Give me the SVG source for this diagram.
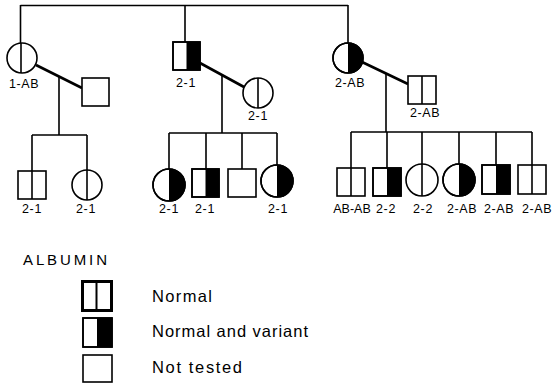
<svg xmlns="http://www.w3.org/2000/svg" width="552" height="386" viewBox="0 0 552 386">
<style>
.s{fill:#fff;stroke:#000;stroke-width:1.6}
.b{fill:#000;stroke:none}
.l{stroke:#000;stroke-width:1.6;fill:none}
.m{stroke:#000;stroke-width:2.6;fill:none}
.t{font-family:"Liberation Sans",Arial,sans-serif;font-size:12.5px;fill:#000;text-anchor:middle;letter-spacing:0.6px}
.g{font-family:"Liberation Sans",Arial,sans-serif;font-size:16.5px;fill:#000}
</style>
<rect width="552" height="386" fill="#fff"/>
<g id="connectors">
<path class="l" d="M20.5 5.5 H348 M20.5 5 V43 M185 5 V42 M348 5 V43"/>
<path class="m" d="M36 65 L82 88 M200 63 L244 87 M362 62 L408 84"/>
<path class="l" d="M59 76 V135 M32 135 H87 M32 135 V171 M87 135 V170"/>
<path class="l" d="M222 75 V133 M169 133 H277 M169 133 V169 M206 133 V169 M242 133 V169 M277 133 V165"/>
<path class="l" d="M386 73 V132 M351 132 H532 M351 132 V168 M387 132 V168 M422 132 V164 M459 132 V164 M496 132 V165 M532 132 V165"/>
</g>
<g id="g1-f">
<circle class="s" cx="22" cy="58" r="15"/><path class="l" d="M21 43 V73"/>
<text class="t" x="24" y="88">1-AB</text>
</g>
<g id="g1-m">
<rect class="s" x="173" y="42" width="27" height="28"/><rect class="b" x="186.5" y="42" width="13.5" height="28"/><rect class="s" x="173" y="42" width="27" height="28" style="fill:none"/>
<text class="t" x="186" y="87">2-1</text>
</g>
<g id="g1-f2">
<circle class="s" cx="348" cy="58" r="15"/><path class="b" d="M348 43 A15 15 0 0 1 348 73 Z"/><circle class="s" cx="348" cy="58" r="15" style="fill:none"/>
<text class="t" x="350" y="87">2-AB</text>
</g>
<g id="sp1">
<rect class="s" x="82" y="78" width="27" height="28"/>
</g>
<g id="sp2">
<circle class="s" cx="258" cy="93" r="15"/><path class="l" d="M258 78 V108"/>
<text class="t" x="258" y="120">2-1</text>
</g>
<g id="sp3">
<rect class="s" x="408" y="76" width="28" height="28"/><path class="l" d="M422 76 V104"/>
<text class="t" x="425" y="117">2-AB</text>
</g>
<g id="c1a">
<rect class="s" x="18" y="171" width="28" height="28"/><path class="l" d="M32 171 V199"/>
<text class="t" x="32" y="213">2-1</text>
</g>
<g id="c1b">
<circle class="s" cx="87" cy="185" r="15"/><path class="l" d="M87 170 V200"/>
<text class="t" x="86" y="213">2-1</text>
</g>
<g id="c2a">
<circle class="s" cx="169" cy="185" r="16"/><path class="b" d="M169 169 A16 16 0 0 1 169 201 Z"/><circle class="s" cx="169" cy="185" r="16" style="fill:none"/>
<text class="t" x="169" y="213">2-1</text>
</g>
<g id="c2b">
<rect class="s" x="192" y="169" width="27" height="28"/><rect class="b" x="205.5" y="169" width="13.5" height="28"/><rect class="s" x="192" y="169" width="27" height="28" style="fill:none"/>
<text class="t" x="205" y="213">2-1</text>
</g>
<g id="c2c">
<rect class="s" x="228" y="169" width="28" height="28"/>
</g>
<g id="c2d">
<circle class="s" cx="277" cy="181" r="16"/><path class="b" d="M277 165 A16 16 0 0 1 277 197 Z"/><circle class="s" cx="277" cy="181" r="16" style="fill:none"/>
<text class="t" x="278" y="213">2-1</text>
</g>
<g id="c3a">
<rect class="s" x="337" y="168" width="28" height="28"/><path class="l" d="M351 168 V196"/>
<text class="t" x="352" y="213" style="letter-spacing:0">AB-AB</text>
</g>
<g id="c3b">
<rect class="s" x="373" y="168" width="28" height="28"/><rect class="b" x="387" y="168" width="14" height="28"/><rect class="s" x="373" y="168" width="28" height="28" style="fill:none"/>
<text class="t" x="386" y="213">2-2</text>
</g>
<g id="c3c">
<circle class="s" cx="422" cy="180" r="16"/><path class="l" d="M422 164 V196"/>
<text class="t" x="423" y="213">2-2</text>
</g>
<g id="c3d">
<circle class="s" cx="459" cy="180" r="16"/><path class="b" d="M459 164 A16 16 0 0 1 459 196 Z"/><circle class="s" cx="459" cy="180" r="16" style="fill:none"/>
<text class="t" x="462" y="213">2-AB</text>
</g>
<g id="c3e">
<rect class="s" x="482" y="165" width="28" height="29"/><rect class="b" x="496" y="165" width="14" height="29"/><rect class="s" x="482" y="165" width="28" height="29" style="fill:none"/>
<text class="t" x="499" y="213">2-AB</text>
</g>
<g id="c3f">
<rect class="s" x="518" y="165" width="28" height="29"/><path class="l" d="M532 165 V194"/>
<text class="t" x="522" y="213" style="text-anchor:start">2-AB</text>
</g>
<g id="legend">
<text class="g" x="23" y="265" textLength="84" lengthAdjust="spacing" style="font-size:15px">ALBUMIN</text>
<rect x="82.5" y="281.5" width="29" height="29" fill="#fff" stroke="#000" stroke-width="3"/><path class="l" d="M96.5 281 V311" style="stroke-width:2"/>
<text class="g" x="152" y="302" textLength="60" lengthAdjust="spacing">Normal</text>
<rect class="s" x="83" y="318" width="29" height="29"/><rect class="b" x="97" y="318" width="15" height="29"/><rect class="s" x="83" y="318" width="29" height="29" style="fill:none"/>
<text class="g" x="152" y="337" textLength="156" lengthAdjust="spacing">Normal and variant</text>
<rect class="s" x="83" y="355" width="29" height="27"/>
<text class="g" x="152" y="373" textLength="90" lengthAdjust="spacing">Not  tested</text>
</g>
</svg>
